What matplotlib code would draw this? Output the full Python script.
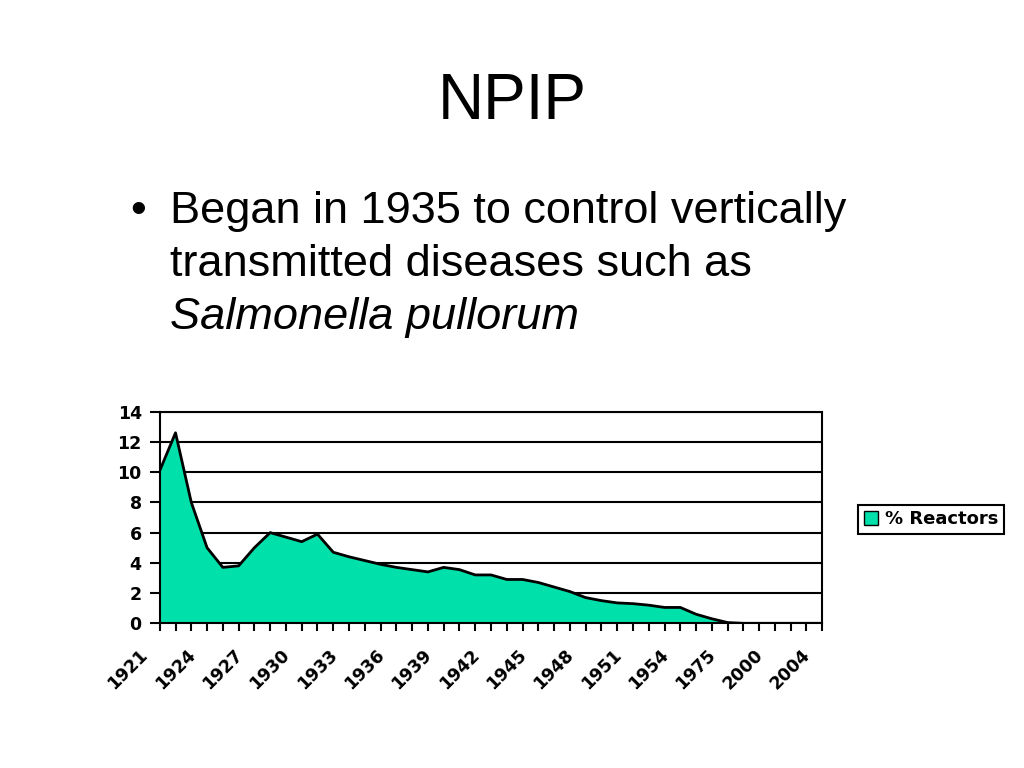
import matplotlib
matplotlib.use('Agg')
import matplotlib.pyplot as plt
import matplotlib.transforms as mtrans
import numpy as np

# 資料：年份 (類別軸) 與 % Reactors
years = ['1921', '1922', '1923', '1924', '1925', '1926', '1927', '1928', '1929', '1930',
         '1931', '1932', '1933', '1934', '1935', '1936', '1937', '1938', '1939', '1940',
         '1941', '1942', '1943', '1944', '1945', '1946', '1947', '1948', '1949', '1950',
         '1951', '1952', '1953', '1954', '1955', '1956', '1975', '1985', '1995', '2000',
         '2002', '2003', '2004']
reactors = [10.1, 12.6, 8.0, 5.0, 3.7, 3.8, 5.0, 6.0, 5.7, 5.4,
            5.9, 4.7, 4.4, 4.15, 3.9, 3.7, 3.55, 3.4, 3.7, 3.55,
            3.2, 3.2, 2.9, 2.9, 2.7, 2.4, 2.1, 1.7, 1.5, 1.35,
            1.3, 1.2, 1.05, 1.05, 0.6, 0.3, 0.05, 0.0, 0.0, 0.0,
            0.0, 0.0, 0.0]
y_ticks = [0, 2, 4, 6, 8, 10, 12, 14]

fig = plt.figure(figsize=(10.24, 7.68), dpi=100)
fig.patch.set_facecolor('white')

fig.text(0.5, 0.867, 'NPIP', ha='center', va='center', fontsize=46,
         family='Liberation Sans')
fig.text(0.127, 0.725, '•', ha='left', va='center', fontsize=32.5, family='Liberation Sans')
fig.text(0.166, 0.725, 'Began in 1935 to control vertically', ha='left', va='center',
         fontsize=32.5, family='Liberation Sans')
fig.text(0.166, 0.656, 'transmitted diseases such as', ha='left', va='center',
         fontsize=32.5, family='Liberation Sans')
fig.text(0.166, 0.586, 'Salmonella pullorum', ha='left', va='center',
         fontsize=32.5, family='Liberation Sans', style='italic')

ax = fig.add_axes([0.156, 0.1884, 0.647, 0.2756])
x = np.arange(len(years))
ax.fill_between(x, reactors, 0, facecolor='#00E0AA', edgecolor='none', label='% Reactors')
ax.plot(x, reactors, color='black', lw=2)

ax.set_xlim(0, len(years) - 1)
ax.set_ylim(0, 14)
ax.set_yticks(y_ticks)
for t in y_ticks[1:]:
    ax.axhline(t, color='black', lw=1.5, zorder=0)

ax.set_xticks(x)
ax.set_xticklabels([y if i % 3 == 0 else '' for i, y in enumerate(years)],
                   rotation=45, ha='right', rotation_mode='anchor')
ax.tick_params(axis='x', length=6, width=1.5, direction='out', pad=10)
ax.tick_params(axis='y', length=7, width=1.5, direction='out', pad=6)
# 標籤往左移一點，比較像原圖
shift = mtrans.ScaledTranslation(-21 / 100, 0, fig.dpi_scale_trans)
for lab in ax.get_xticklabels():
    lab.set_transform(lab.get_transform() + shift)
for lab in ax.get_xticklabels() + ax.get_yticklabels():
    lab.set_fontsize(12.5)
    lab.set_fontweight('bold')
    lab.set_family('DejaVu Sans')
for s in ax.spines.values():
    s.set_linewidth(1.5)
    s.set_color('black')

leg = fig.legend(handles=[plt.Rectangle((0, 0), 1, 1, facecolor='#00E0AA', edgecolor='black')],
                 labels=['% Reactors'], loc='center left', bbox_to_anchor=(0.838, 0.324),
                 fancybox=False, framealpha=1, edgecolor='black',
                 prop={'family': 'DejaVu Sans', 'weight': 'bold', 'size': 13},
                 handlelength=0.8, handleheight=0.8, handletextpad=0.4,
                 borderpad=0.3, borderaxespad=0)
leg.get_frame().set_linewidth(1.5)

fig.savefig('out.png', dpi=100)
